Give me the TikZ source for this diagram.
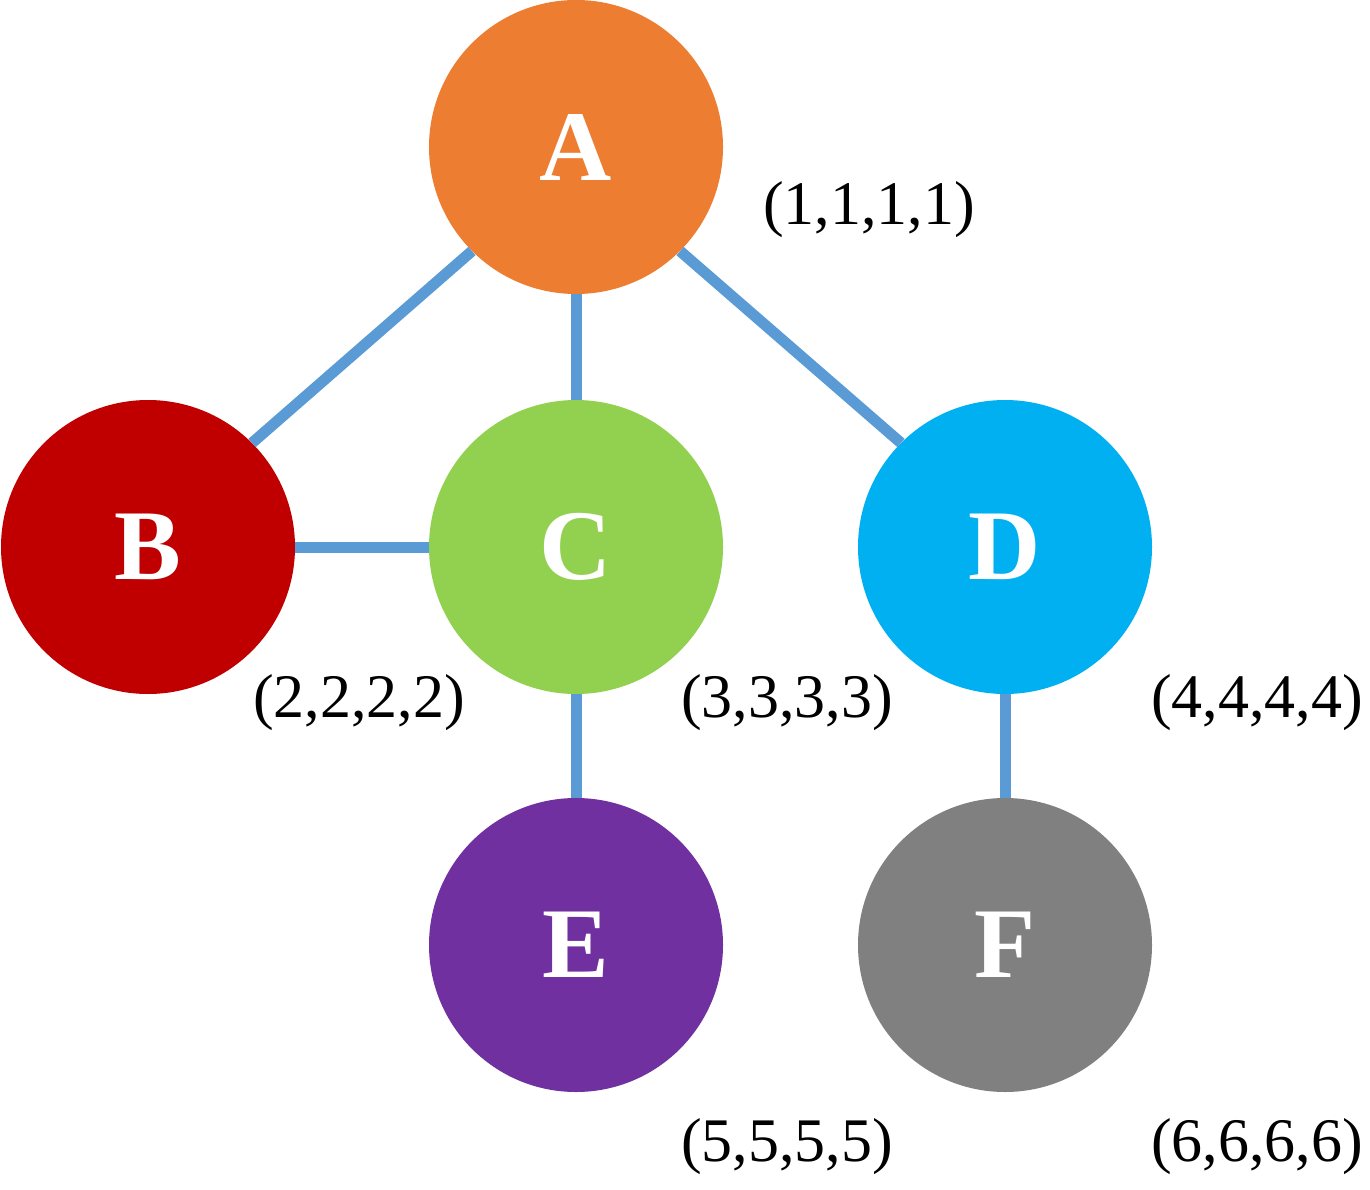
\documentclass[tikz,border=0pt]{standalone}
\usepackage{fontspec}
\setmainfont{Liberation Serif}
\definecolor{cA}{HTML}{ED7D31}
\definecolor{cB}{HTML}{C00000}
\definecolor{cC}{HTML}{92D050}
\definecolor{cD}{HTML}{00B0F0}
\definecolor{cE}{HTML}{7030A0}
\definecolor{cF}{HTML}{808080}
\definecolor{edgec}{HTML}{5B9BD5}
\begin{document}
\begin{tikzpicture}[x=1pt,y=-1pt,
  vert/.style={circle,minimum size=294pt,inner sep=0pt,text=white,font=\fontsize{100}{110}\selectfont\bfseries},
  lab/.style={font=\fontsize{62}{70}\selectfont,text=black,inner sep=0pt},
  edge/.style={draw=edgec,line width=11pt}]
\useasboundingbox (0,0) rectangle (1370,1190);
\node[vert,fill=cA] (A) at (576,147) {A};
\node[vert,fill=cB] (B) at (148,547) {B};
\node[vert,fill=cC] (C) at (576,547) {C};
\node[vert,fill=cD] (D) at (1005,547) {D};
\node[vert,fill=cE] (E) at (576,945) {E};
\node[vert,fill=cF] (F) at (1005,945) {F};
\draw[edge] (A.225) -- (B.45);
\draw[edge] (A) -- (C);
\draw[edge] (A.-45) -- (D.135);
\draw[edge] (B) -- (C);
\draw[edge] (C) -- (E);
\draw[edge] (D) -- (F);
\node[lab] (lA) at (869,210) {(1,1,1,1)};
\node[lab] (lB) at (359,703) {(2,2,2,2)};
\node[lab] (lC) at (787,703) {(3,3,3,3)};
\node[lab] (lD) at (1257,703) {(4,4,4,4)};
\node[lab] (lE) at (787,1147) {(5,5,5,5)};
\node[lab] (lF) at (1257,1147) {(6,6,6,6)};
\end{tikzpicture}
\end{document}
